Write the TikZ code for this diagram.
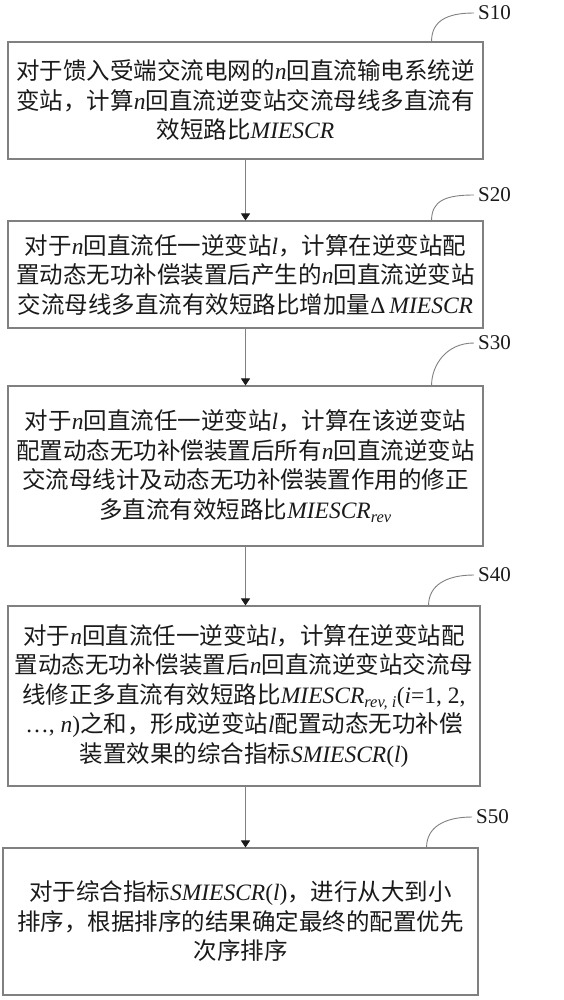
\documentclass[tikz,border=0pt]{standalone}
\usepackage{fontspec}
\setmainfont{Liberation Serif}
\newfontfamily\cjk{Noto Sans CJK SC}
\usetikzlibrary{arrows.meta}
\definecolor{ink}{HTML}{1A1A1A}
\definecolor{edge}{HTML}{808080}
\newcommand{\vi}[1]{{\rmfamily\itshape #1}}
\newcommand{\vr}[1]{{\rmfamily #1}}
\tikzset{
  stepbox/.style={draw=edge, line width=1.1pt, align=center, inner sep=0pt, minimum width=475pt, text=ink, font=\cjk\fontsize{23.5}{29.5}\selectfont},
  flowarrow/.style={-{Triangle[length=7pt,width=9pt,color=ink,fill=ink]}, draw=edge, line width=0.9pt},
  leader/.style={draw=edge, line width=0.9pt},
  steplabel/.style={font=\rmfamily\fontsize{21}{21}\selectfont, anchor=west, inner sep=0pt, text=ink},
}
\begin{document}
\begin{tikzpicture}[x=1pt,y=-1pt]
\useasboundingbox (0,0) rectangle (564,1000);
% steps
\node[stepbox, minimum height=117pt] (s10) at (245.5,100.5) {对于馈入受端交流电网的\vi{n}回直流输电系统逆\\变站，计算\vi{n}回直流逆变站交流母线多直流有\\效短路比\vi{MIESCR}};
\node[stepbox, minimum height=107pt] (s20) at (245.5,274.5) {对于\vi{n}回直流任一逆变站\vi{l}，计算在逆变站配\\置动态无功补偿装置后产生的\vi{n}回直流逆变站\\交流母线多直流有效短路比增加量\vr{Δ}\,\vi{MIESCR}};
\node[stepbox, minimum height=160pt] (s30) at (245.5,466) {对于\vi{n}回直流任一逆变站\vi{l}，计算在该逆变站\\配置动态无功补偿装置后所有\vi{n}回直流逆变站\\交流母线计及动态无功补偿装置作用的修正\\多直流有效短路比\vi{MIESCR\textsubscript{rev}}};
\node[stepbox, minimum height=180pt, minimum width=472pt] (s40) at (244,696) {对于\vi{n}回直流任一逆变站\vi{l}，计算在逆变站配\\置动态无功补偿装置后\vi{n}回直流逆变站交流母\\线修正多直流有效短路比\vi{MIESCR\textsubscript{rev, i}}\vr{(\textit{i}=1, 2,}\\\vr{…, \textit{n})}之和，形成逆变站\vi{l}配置动态无功补偿\\装置效果的综合指标\vi{SMIESCR}\vr{(\textit{l})}};
\node[stepbox, minimum height=147pt] (s50) at (240.5,921.5) {对于综合指标\vi{SMIESCR}\vr{(\textit{l})}，进行从大到小\\排序，根据排序的结果确定最终的配置优先\\次序排序};
% labels
\node[steplabel] (l10) at (478,13) {S10};
\node[steplabel] (l20) at (478,195) {S20};
\node[steplabel] (l30) at (478,343) {S30};
\node[steplabel] (l40) at (478,575) {S40};
\node[steplabel] (l50) at (476,817) {S50};
\foreach \b/\l in {s10/l10, s20/l20, s30/l30, s40/l40, s50/l50}
  \draw[leader] ([xshift=-52pt]\b.north east) .. controls +(0,-20) and +(-28,0) .. ([xshift=-4pt]\l.west);
% flow
\draw[flowarrow] (s10.south) -- (s10.south |- s20.north);
\draw[flowarrow] (s20.south) -- (s20.south |- s30.north);
\draw[flowarrow] (s30.south) -- (s30.south |- s40.north);
\draw[flowarrow] (s30.south |- s40.south) -- (s30.south |- s50.north);
\end{tikzpicture}
\end{document}
